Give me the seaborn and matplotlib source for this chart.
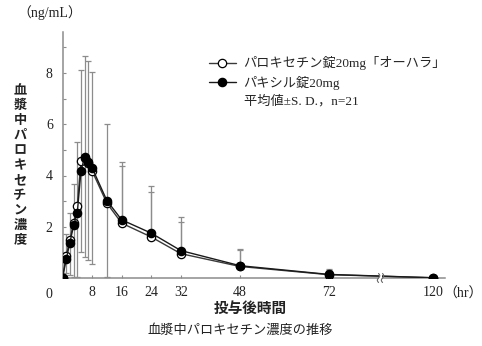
import numpy as np
import pandas as pd
import matplotlib
matplotlib.use("Agg")
import matplotlib.pyplot as plt
from matplotlib.lines import Line2D
from matplotlib.patches import Rectangle
from matplotlib.transforms import IdentityTransform
import seaborn as sns

# Sampling times (hr) and mean plasma concentrations (ng/mL)
times = [0, 1, 2, 3, 4, 5, 6, 7, 8, 12, 16, 24, 32, 48, 72, 120]
ohara_mean = [0, 0.87, 1.50, 2.15, 2.80, 4.57, 4.68, 4.48, 4.18, 2.92, 2.14, 1.60, 0.95, 0.45, 0.13, 0.01]
paxil_mean = [0, 0.73, 1.38, 2.05, 2.55, 4.19, 4.73, 4.54, 4.30, 3.02, 2.27, 1.75, 1.07, 0.48, 0.14, 0.01]

# Standard deviations (one-sided bars)
paxil_sd = [0, 0.97, 1.17, 1.60, 2.75, 3.91, 3.92, 3.91, 3.75, 2.98, 2.27, 1.83, 1.31, 0.66, 0.21, 0]
ohara_sd_lower = [0, 0.67, 1.40, 2.10, 2.78, 3.57, 3.85, 3.78, 3.63, 2.90, 0, 0, 0, 0, 0, 0]
ohara_sd_upper = [0, 0, 0, 0, 0, 0, 0, 0, 0, 0, 2.23, 1.75, 1.25, 0.65, 0.17, 0]

x_ticks = [8, 16, 24, 32, 48, 72, 120]
y_major = [2, 4, 6, 8]
y_minor = [1, 3, 5, 7, 9]

label_ohara = "パロキセチン錠20mg「オーハラ」"
label_paxil = "パキシル錠20mg"
label_stat = "平均値±S. D.，n=21"

# Broken time axis: hours beyond BREAK are squeezed
BREAK = 86.0
SQUEEZE = 0.415


def fwd(x):
    x = np.asarray(x, dtype=float)
    return np.where(x <= BREAK, x, BREAK + (x - BREAK) * SQUEEZE)


def inv(x):
    x = np.asarray(x, dtype=float)
    return np.where(x <= BREAK, x, BREAK + (x - BREAK) / SQUEEZE)


sns.set_theme(style="ticks")
plt.rcParams["font.family"] = ["Liberation Serif", "Noto Sans CJK JP"]

W, H = 482, 346
fig = plt.figure(figsize=(W / 100, H / 100), dpi=100)
ax = fig.add_axes([62.5 / W, 68 / H, (445 - 62.5) / W, (278 - 32) / H])
ax.set_xscale("function", functions=(fwd, inv))

df = pd.DataFrame({"time": times, "ohara": ohara_mean, "paxil": paxil_mean})

grey = "#8c8c8c"
ebkw = dict(fmt="none", ecolor=grey, elinewidth=0.9, capsize=2.2, capthick=0.9, zorder=2)

t = np.array(times, dtype=float)
pm = np.array(paxil_mean)
om = np.array(ohara_mean)
psd = np.array(paxil_sd)
olo = np.array(ohara_sd_lower)
oup = np.array(ohara_sd_upper)

m = psd > 0
ax.errorbar(t[m], pm[m], yerr=[np.zeros(m.sum()), psd[m]], **ebkw)
m = olo > 0
ax.errorbar(t[m], om[m], yerr=[olo[m], np.zeros(m.sum())], **ebkw)
m = oup > 0
ax.errorbar(t[m], om[m], yerr=[np.zeros(m.sum()), oup[m]], **ebkw)

sns.lineplot(data=df, x="time", y="ohara", ax=ax, color="#3a3a3a", linewidth=1.0,
             marker="o", markersize=6, markerfacecolor="white",
             markeredgecolor="black", markeredgewidth=0.9, zorder=3)
sns.lineplot(data=df, x="time", y="paxil", ax=ax, color="#1a1a1a", linewidth=1.0,
             marker="o", markersize=6, markerfacecolor="black",
             markeredgecolor="black", markeredgewidth=0.9, zorder=4)

ax.set_xlim(0, 128)
ax.set_ylim(0, 9.6)
ax.set_xlabel("")
ax.set_ylabel("")

ax.set_xticks(x_ticks)
ax.set_xticklabels([str(v) for v in x_ticks])
ax.set_yticks(y_major)
ax.set_yticklabels([str(v) for v in y_major])
ax.set_yticks(y_minor, minor=True)
ax.tick_params(axis="both", which="both", direction="in", length=2.5, width=0.8,
               colors=grey, labelcolor="#222222", labelsize=10)
ax.tick_params(axis="x", pad=6)
ax.tick_params(axis="y", pad=7)
ax.xaxis.set_minor_locator(matplotlib.ticker.NullLocator())

for side in ("top", "right"):
    ax.spines[side].set_visible(False)
for side in ("left", "bottom"):
    ax.spines[side].set_color(grey)
    ax.spines[side].set_linewidth(1.1)
    ax.spines[side].set_zorder(1)

# Break mark on the time axis
fig.canvas.draw()
bx, by = ax.transData.transform((BREAK, 0.0))
ident = IdentityTransform()
fig.patches.append(Rectangle((bx - 1.6, by - 4.5), 3.2, 9, transform=ident,
                             facecolor="white", edgecolor="none", zorder=10))
s = np.linspace(-1, 1, 30)
for dx in (-2.0, 2.0):
    fig.lines.append(Line2D(bx + dx + 1.2 * np.sin(np.pi * s), by + 4.5 * s,
                            transform=ident, color="#666666", linewidth=0.8, zorder=11))

# Legend
handles = [
    Line2D([], [], color="#3a3a3a", lw=1.0, marker="o", ms=6, mfc="white", mec="black", mew=0.9),
    Line2D([], [], color="#1a1a1a", lw=1.0, marker="o", ms=6, mfc="black", mec="black", mew=0.9),
    Line2D([], [], linestyle="none", marker=None),
]
fig.legend(handles, [label_ohara, label_paxil, label_stat], loc="upper left",
           bbox_to_anchor=(204 / W, 1 - 51 / H), frameon=False, handlelength=2.0,
           handletextpad=0.6, labelspacing=0.4, borderaxespad=0,
           prop={"family": ["Liberation Serif", "Noto Sans CJK JP"], "size": 9.5})

# Axis texts
fig.text(49 / W, 1 - 294 / H, "0", ha="center", va="center", fontsize=10, color="#222222")
fig.text(50 / W, 1 - 13 / H, "（ng/mL）", ha="center", va="center", fontsize=10, color="#222222")
fig.text(463 / W, 1 - 294 / H, "（hr）", ha="center", va="center", fontsize=10, color="#222222")
fig.text(250 / W, 1 - 308 / H, "投与後時間", ha="center", va="center", fontsize=10.5,
         family=["Noto Sans CJK JP"], weight="bold", color="#222222")
fig.text(240 / W, 1 - 330 / H, "血漿中パロキセチン濃度の推移", ha="center", va="center",
         fontsize=9.5, family=["Noto Sans CJK JP"], color="#222222")
fig.text(20 / W, 1 - 165 / H, "\n".join("血漿中パロキセチン濃度"), ha="center", va="center",
         fontsize=9.5, family=["Noto Sans CJK JP"], weight="bold", linespacing=1.08,
         color="#222222")

fig.savefig("out.png", dpi=100)
